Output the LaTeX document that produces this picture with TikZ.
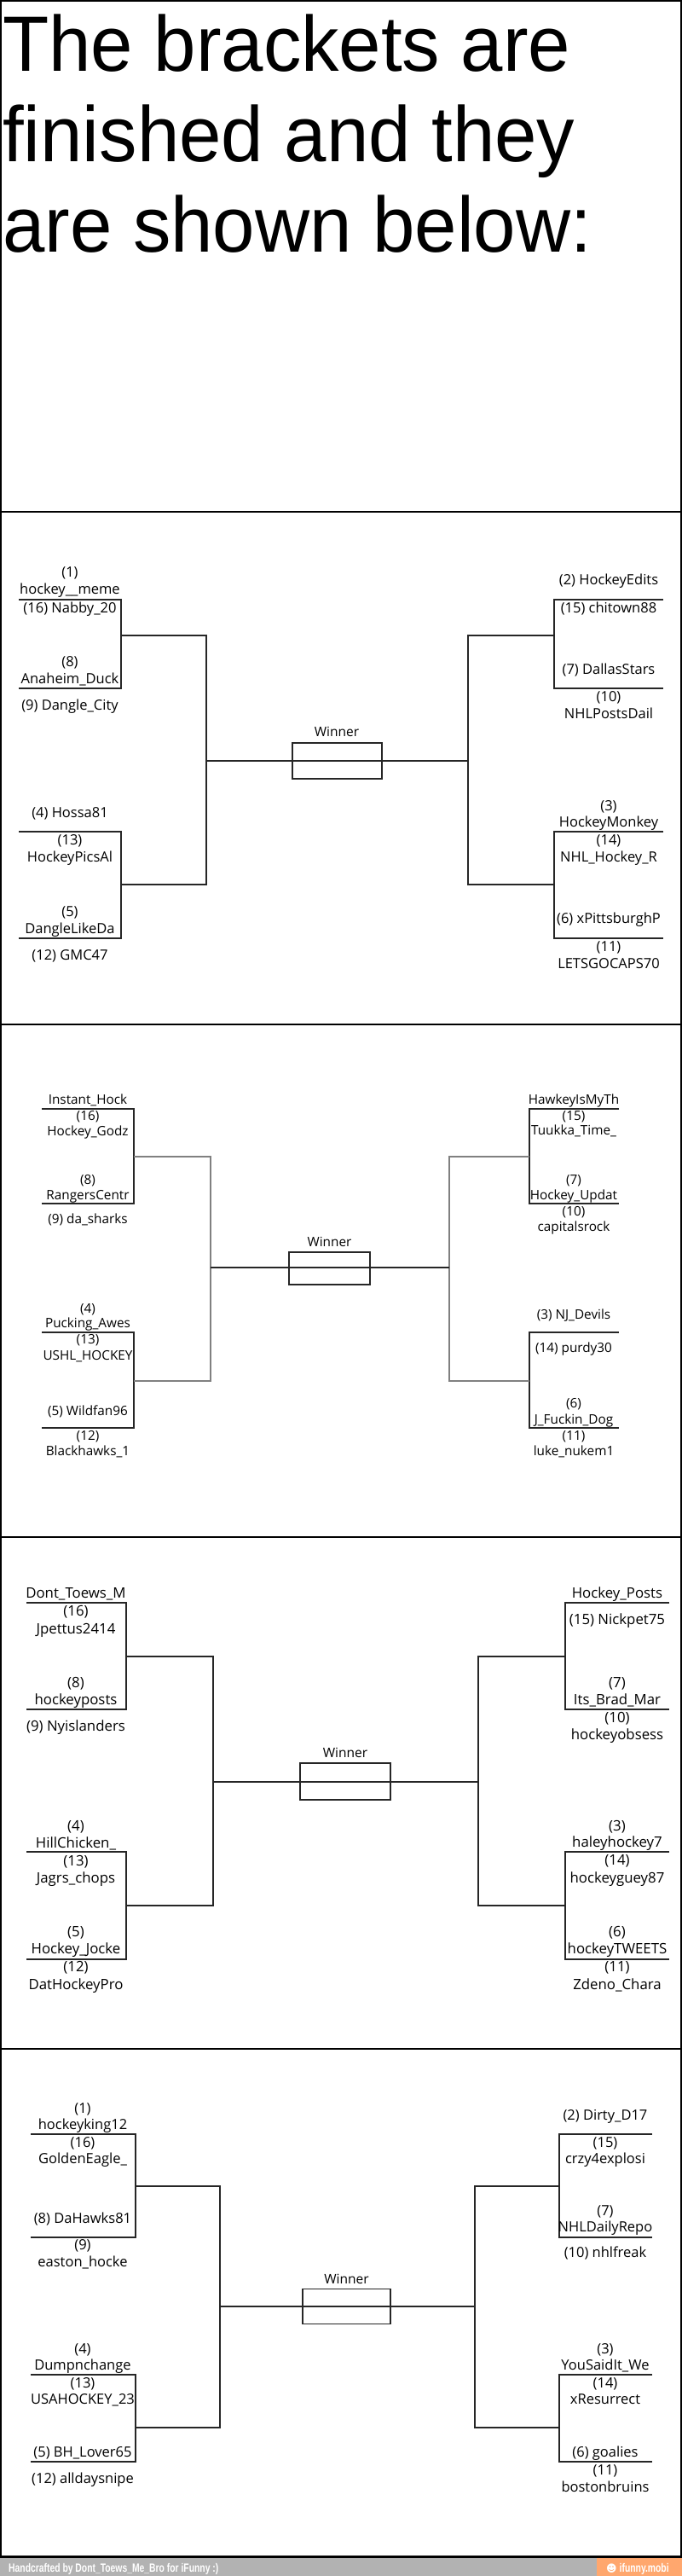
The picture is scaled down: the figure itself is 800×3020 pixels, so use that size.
\documentclass[tikz,border=0pt]{standalone}
\usepackage{fontspec}
\newfontfamily\bfnt{Open Sans}
\newfontfamily\titlefnt[FakeStretch=0.965]{Liberation Sans}
\newfontfamily\footfnt[FakeStretch=0.74]{Liberation Sans}
\newfontfamily\symfnt{DejaVu Sans}
\definecolor{footgray}{HTML}{B2B2B2}
\definecolor{footorange}{HTML}{FFA76E}
\newcounter{lblc}
\newcommand\lbl[3]{\stepcounter{lblc}\node[bt] (l\arabic{lblc}) at (#1,#2) {#3};}
\begin{document}
\begin{tikzpicture}[x=1pt,y=-1pt,
  bt/.style={inner sep=0pt, text height=12.5pt, text depth=3.6pt, anchor=center, text=black},
  ln/.style={draw=black!85, line width=1.3pt},
  lnl/.style={draw=black!50, line width=1.3pt},
  win/.style={draw=black!85, line width=1.3pt, inner sep=0pt, rectangle},
  ttl/.style={anchor=base west, inner sep=0pt, font=\titlefnt\fontsize{92}{106}\selectfont},
  panel/.style={draw=black, line width=2.2pt}
]
\useasboundingbox (0,0) rectangle (800,3020);
\fill[white] (0,0) rectangle (800,3020);

% ---------- title panel ----------
\node[ttl] (t1) at (3,83.4) {The brackets are};
\node[ttl] (t2) at (3,189.4) {finished and they};
\node[ttl] (t3) at (3,295.8) {are shown below:};

% ---------- panel 1 ----------
\begin{scope}[every node/.append style={font=\bfnt\fontsize{16.5}{20}\selectfont}]
\draw[ln] (22,703) -- (142,703) -- (142,807) -- (22,807);
\draw[ln] (22,975) -- (142,975) -- (142,1100) -- (22,1100);
\draw[ln] (142,745) -- (242,745) -- (242,1037) -- (142,1037);
\draw[ln] (778,703) -- (650,703) -- (650,807) -- (778,807);
\draw[ln] (778,975) -- (650,975) -- (650,1100) -- (778,1100);
\draw[ln] (650,745) -- (549,745) -- (549,1037) -- (650,1037);
\node[win, minimum width=105pt, minimum height=42pt] (w1) at (395.5,892) {};
\draw[ln] (242,892) -- (w1.west) -- (w1.east) -- (549,892);
\node[bt] (w1t) at (395,859) {\fontsize{15.5}{18}\selectfont Winner};
\lbl{82}{672}{(1)}
\lbl{82}{692}{hockey\_\_meme}
\lbl{82}{714}{(16) Nabby\_20}
\lbl{82}{777}{(8)}
\lbl{82}{797}{Anaheim\_Duck}
\lbl{82}{828}{(9) Dangle\_City}
\lbl{82}{954}{(4) Hossa81}
\lbl{82}{986}{(13)}
\lbl{82}{1006}{HockeyPicsAl}
\lbl{82}{1070}{(5)}
\lbl{82}{1090}{DangleLikeDa}
\lbl{82}{1121}{(12) GMC47}
\lbl{714}{681}{(2) HockeyEdits}
\lbl{714}{714}{(15) chitown88}
\lbl{714}{786}{(7) DallasStars}
\lbl{714}{818}{(10)}
\lbl{714}{838}{NHLPostsDail}
\lbl{714}{946}{(3)}
\lbl{714}{965}{HockeyMonkey}
\lbl{714}{986}{(14)}
\lbl{714}{1006}{NHL\_Hockey\_R}
\lbl{714}{1078}{(6) xPittsburghP}
\lbl{714}{1111}{(11)}
\lbl{714}{1131}{LETSGOCAPS70}
\end{scope}

% ---------- panel 2 ----------
\begin{scope}[every node/.append style={font=\bfnt\fontsize{15.3}{18}\selectfont}]
\draw[ln] (49,1300) -- (157,1300) -- (157,1411) -- (49,1411);
\draw[ln] (49,1562) -- (157,1562) -- (157,1674) -- (49,1674);
\draw[lnl] (157,1356) -- (247,1356) -- (247,1619) -- (157,1619);
\draw[ln] (726,1300) -- (621,1300) -- (621,1411) -- (726,1411);
\draw[ln] (726,1562) -- (621,1562) -- (621,1674) -- (726,1674);
\draw[lnl] (621,1356) -- (527,1356) -- (527,1619) -- (621,1619);
\node[win, minimum width=95pt, minimum height=38pt] (w2) at (386.5,1487) {};
\draw[ln] (247,1486) -- (527,1486);
\node[bt] (w2t) at (386.5,1457) {Winner};
\lbl{103}{1290}{Instant\_Hock}
\lbl{103}{1309}{(16)}
\lbl{103}{1327}{Hockey\_Godz}
\lbl{103}{1384}{(8)}
\lbl{103}{1402}{RangersCentr}
\lbl{103}{1430}{(9) da\_sharks}
\lbl{103}{1535}{(4)}
\lbl{103}{1552}{Pucking\_Awes}
\lbl{103}{1571}{(13)}
\lbl{103}{1590}{USHL\_HOCKEY}
\lbl{103}{1655}{(5) Wildfan96}
\lbl{103}{1684}{(12)}
\lbl{103}{1702}{Blackhawks\_1}
\lbl{673}{1290}{HawkeyIsMyTh}
\lbl{673}{1309}{(15)}
\lbl{673}{1326}{Tuukka\_Time\_}
\lbl{673}{1384}{(7)}
\lbl{673}{1402}{Hockey\_Updat}
\lbl{673}{1421}{(10)}
\lbl{673}{1439}{capitalsrock}
\lbl{673}{1542}{(3) NJ\_Devils}
\lbl{673}{1581}{(14) purdy30}
\lbl{673}{1646}{(6)}
\lbl{673}{1665}{J\_Fuckin\_Dog}
\lbl{673}{1684}{(11)}
\lbl{673}{1702}{luke\_nukem1}
\end{scope}

% ---------- panel 3 ----------
\begin{scope}[every node/.append style={font=\bfnt\fontsize{16.8}{20}\selectfont}]
\draw[ln] (31,1879) -- (148,1879) -- (148,2004) -- (31,2004);
\draw[ln] (31,2171) -- (148,2171) -- (148,2297) -- (31,2297);
\draw[ln] (148,1942) -- (250,1942) -- (250,2234) -- (148,2234);
\draw[ln] (785,1879) -- (663,1879) -- (663,2004) -- (785,2004);
\draw[ln] (785,2171) -- (663,2171) -- (663,2297) -- (785,2297);
\draw[ln] (663,1942) -- (561,1942) -- (561,2234) -- (663,2234);
\node[win, minimum width=106pt, minimum height=43pt] (w3) at (405,2088.5) {};
\draw[ln] (250,2089) -- (561,2089);
\node[bt] (w3t) at (405,2056) {\fontsize{15.5}{18}\selectfont Winner};
\lbl{89}{1869}{Dont\_Toews\_M}
\lbl{89}{1890}{(16)}
\lbl{89}{1911}{Jpettus2414}
\lbl{89}{1974}{(8)}
\lbl{89}{1994}{hockeyposts}
\lbl{89}{2025}{(9) Nyislanders}
\lbl{89}{2142}{(4)}
\lbl{89}{2162}{HillChicken\_}
\lbl{89}{2183}{(13)}
\lbl{89}{2203}{Jagrs\_chops}
\lbl{89}{2266}{(5)}
\lbl{89}{2286}{Hockey\_Jocke}
\lbl{89}{2307}{(12)}
\lbl{89}{2328}{DatHockeyPro}
\lbl{724}{1869}{Hockey\_Posts}
\lbl{724}{1900}{(15) Nickpet75}
\lbl{724}{1974}{(7)}
\lbl{724}{1994}{Its\_Brad\_Mar}
\lbl{724}{2015}{(10)}
\lbl{724}{2035}{hockeyobsess}
\lbl{724}{2142}{(3)}
\lbl{724}{2161}{haleyhockey7}
\lbl{724}{2182}{(14)}
\lbl{724}{2203}{hockeyguey87}
\lbl{724}{2266}{(6)}
\lbl{724}{2286}{hockeyTWEETS}
\lbl{724}{2307}{(11)}
\lbl{724}{2328}{Zdeno\_Chara}
\end{scope}

% ---------- panel 4 ----------
\begin{scope}[every node/.append style={font=\bfnt\fontsize{16.5}{20}\selectfont}]
\draw[ln] (36,2502) -- (159,2502) -- (159,2623) -- (36,2623);
\draw[ln] (36,2784) -- (159,2784) -- (159,2886) -- (36,2886);
\draw[ln] (159,2563) -- (258,2563) -- (258,2846) -- (159,2846);
\draw[ln] (765,2502) -- (656,2502) -- (656,2623) -- (765,2623);
\draw[ln] (765,2784) -- (656,2784) -- (656,2886) -- (765,2886);
\draw[ln] (656,2563) -- (557,2563) -- (557,2846) -- (656,2846);
\node[win, minimum width=103pt, minimum height=41.5pt] (w4) at (406.5,2704) {};
\draw[ln] (258,2704) -- (557,2704);
\node[bt] (w4t) at (406.5,2673) {\fontsize{15.5}{18}\selectfont Winner};
\lbl{97}{2473}{(1)}
\lbl{97}{2492}{hockeyking12}
\lbl{97}{2513}{(16)}
\lbl{97}{2532}{GoldenEagle\_}
\lbl{97}{2602}{(8) DaHawks81}
\lbl{97}{2633}{(9)}
\lbl{97}{2653}{easton\_hocke}
\lbl{97}{2755}{(4)}
\lbl{97}{2774}{Dumpnchange}
\lbl{97}{2795}{(13)}
\lbl{97}{2814}{USAHOCKEY\_23}
\lbl{97}{2876}{(5) BH\_Lover65}
\lbl{97}{2907}{(12) alldaysnipe}
\lbl{710}{2481}{(2) Dirty\_D17}
\lbl{710}{2513}{(15)}
\lbl{710}{2532}{crzy4explosi}
\lbl{710}{2593}{(7)}
\lbl{710}{2612}{NHLDailyRepo}
\lbl{710}{2642}{(10) nhlfreak}
\lbl{710}{2755}{(3)}
\lbl{710}{2774}{YouSaidIt\_We}
\lbl{710}{2795}{(14)}
\lbl{710}{2814}{xResurrect}
\lbl{710}{2876}{(6) goalies}
\lbl{710}{2897}{(11)}
\lbl{710}{2917}{bostonbruins}
\end{scope}

% ---------- panel borders ----------
\draw[panel] (1.1,1.1) rectangle (798.9,2997.5);
\draw[panel] (0,600) -- (800,600);
\draw[panel] (0,1201) -- (800,1201);
\draw[panel] (0,1802) -- (800,1802);
\draw[panel] (0,2402) -- (800,2402);

% ---------- footer ----------
\fill[footgray] (0,2999) rectangle (800,3020);
\fill[footorange] (700,2999) rectangle (800,3020);
\node[anchor=base west, inner sep=0pt, text=white, font=\footfnt\bfseries\fontsize{14}{14}\selectfont] (ft) at (10,3015.5) {Handcrafted by Dont\_Toews\_Me\_Bro for iFunny :)};
\node[anchor=base west, inner sep=0pt, text=white, font=\footfnt\bfseries\fontsize{14}{14}\selectfont] (fm) at (711,3015.5) {{\symfnt\fontsize{12}{12}\selectfont ☻}\hspace{3pt}ifunny.mobi};
\end{tikzpicture}
\end{document}
